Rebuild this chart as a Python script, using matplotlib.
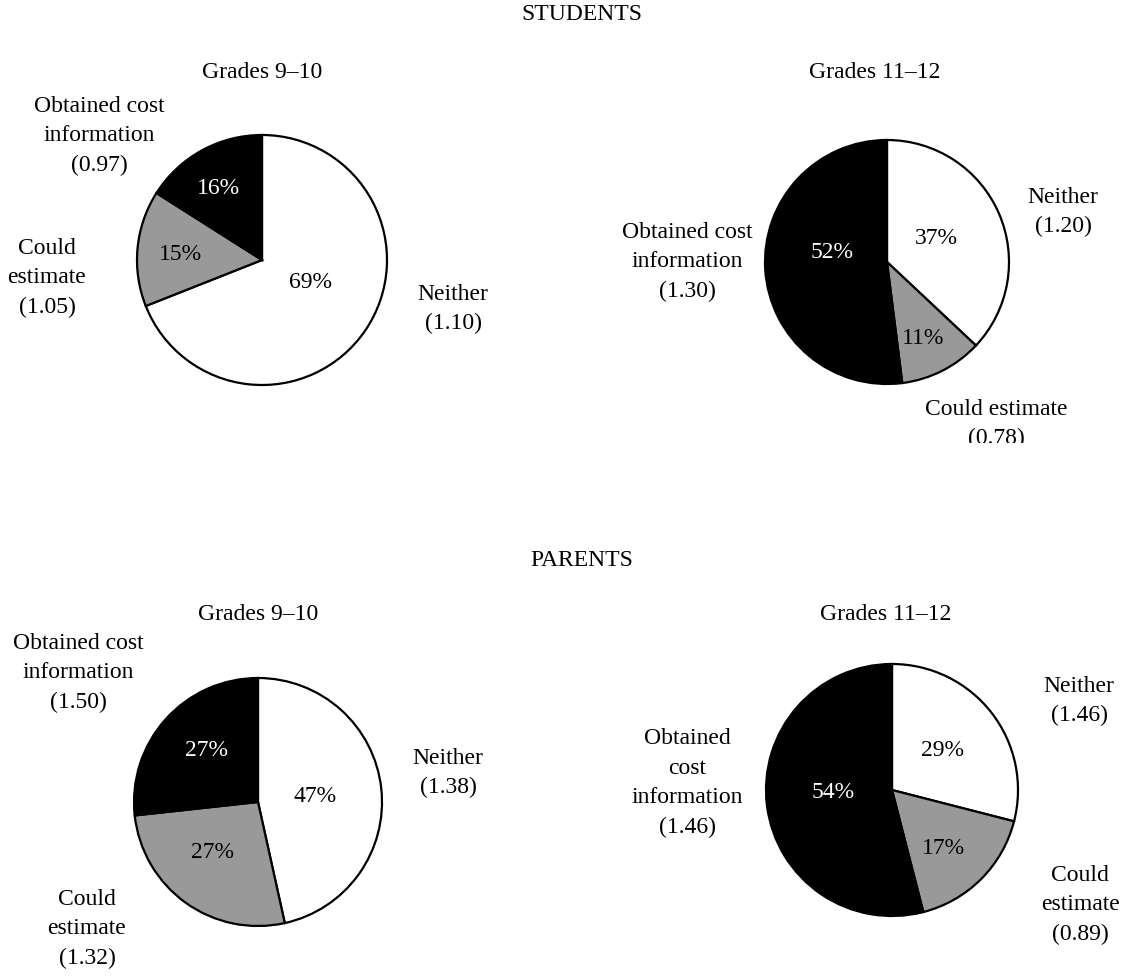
import matplotlib.pyplot as plt
from matplotlib.transforms import Bbox

plt.rcParams['font.family'] = ['Liberation Serif', 'DejaVu Serif']

W, H = 1143, 976

# slice order in every pie: Neither, Could estimate, Obtained cost information
categories = ['Neither', 'Could estimate', 'Obtained cost information']
colors = ['white', '#999999', 'black']

students_910 = [69, 15, 16]
students_910_scores = [1.10, 1.05, 0.97]
students_1112 = [37, 11, 52]
students_1112_scores = [1.20, 0.78, 1.30]
parents_910 = [47, 27, 27]
parents_910_scores = [1.38, 1.32, 1.50]
parents_1112 = [29, 17, 54]
parents_1112_scores = [1.46, 0.89, 1.46]

group_titles = ['STUDENTS', 'PARENTS']
grade_titles = ['Grades 9\u201310', 'Grades 11\u201312']

# layout in pixels (x right, y down)
panels = [
    dict(vals=students_910, scores=students_910_scores, title=grade_titles[0],
         center=(262, 260), r=125, title_pos=(262, 73),
         names=['Neither', 'Could\nestimate', 'Obtained cost\ninformation'],
         name_pos=[(453, 309), (47, 278), (99, 136)],
         pct_pos=[(310, 282), (180, 255), (218, 188)]),
    dict(vals=students_1112, scores=students_1112_scores, title=grade_titles[1],
         center=(887, 262), r=122, title_pos=(875, 73),
         names=['Neither', 'Could estimate', 'Obtained cost\ninformation'],
         name_pos=[(1063, 212), (996, 424), (687, 262)],
         pct_pos=[(936, 238), (923, 338), (832, 253)]),
    dict(vals=parents_910, scores=parents_910_scores, title=grade_titles[0],
         center=(258, 802), r=124, title_pos=(258, 615),
         names=['Neither', 'Could\nestimate', 'Obtained cost\ninformation'],
         name_pos=[(448, 773), (87, 929), (78, 673)],
         pct_pos=[(315, 797), (213, 852), (206, 750)]),
    dict(vals=parents_1112, scores=parents_1112_scores, title=grade_titles[1],
         center=(892, 790), r=126, title_pos=(886, 615),
         names=['Neither', 'Could\nestimate', 'Obtained\ncost\ninformation'],
         name_pos=[(1079, 701), (1080, 905), (687, 783)],
         pct_pos=[(943, 750), (943, 848), (833, 793)]),
]

fig = plt.figure(figsize=(W / 100, H / 100), dpi=100)
ax = fig.add_axes([0, 0, 1, 1])
fs = 17

for p in panels:
    cx, cy = p['center']
    ax.pie(p['vals'], colors=colors, startangle=90, counterclock=False,
           center=(cx, H - cy), radius=p['r'],
           wedgeprops=dict(edgecolor='black', linewidth=1.6))
    ax.text(p['title_pos'][0], H - p['title_pos'][1], p['title'],
            ha='center', va='center', fontsize=fs)
    for i in range(3):
        x, y = p['pct_pos'][i]
        ax.text(x, H - y, f"{p['vals'][i]}%", ha='center', va='center',
                fontsize=fs, color='white' if colors[i] == 'black' else 'black')
        x, y = p['name_pos'][i]
        t = ax.text(x, H - y, f"{p['names'][i]}\n({p['scores'][i]:.2f})",
                    ha='center', va='center', fontsize=fs, linespacing=1.52,
                    multialignment='center')
        if p is panels[1] and i == 1:
            # bottom of this label is cut off in the original
            t.set_clip_box(Bbox([[0, H - 443], [W, H]]))
            t.set_clip_on(True)

ax.text(582, H - 15, group_titles[0], ha='center', va='center', fontsize=fs)
ax.text(582, H - 560, group_titles[1], ha='center', va='center', fontsize=fs)

ax.set_xlim(0, W)
ax.set_ylim(0, H)
ax.axis('off')

fig.savefig('out.png', dpi=100)
